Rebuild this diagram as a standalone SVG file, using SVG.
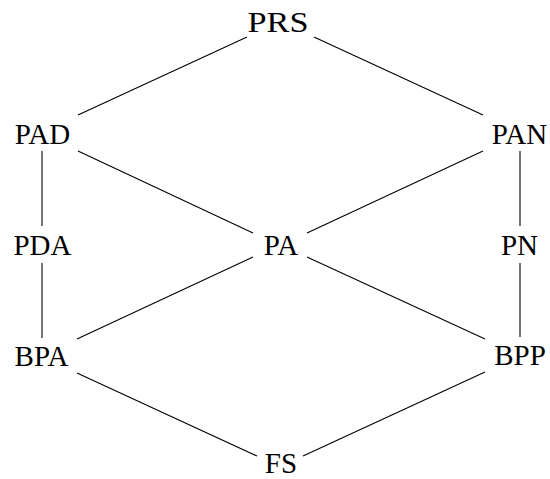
<svg xmlns="http://www.w3.org/2000/svg" width="550" height="479" viewBox="0 0 550 479">
<style>
text{font-family:"Liberation Serif","DejaVu Serif",serif;font-size:29px;fill:#000;text-anchor:middle}
.e line{stroke:#000;stroke-width:1.1}
</style>
<rect width="550" height="479" fill="#fff"/>
<g class="e" id="connectors">
<line x1="247" y1="37" x2="78" y2="115"/>
<line x1="314" y1="37" x2="483" y2="115"/>
<line x1="42" y1="151" x2="42" y2="226"/>
<line x1="42" y1="263" x2="42" y2="338"/>
<line x1="520" y1="151" x2="520" y2="226"/>
<line x1="520" y1="263" x2="520" y2="337"/>
<line x1="78" y1="151" x2="253" y2="233"/>
<line x1="483" y1="151" x2="307" y2="233"/>
<line x1="253" y1="257" x2="77" y2="339"/>
<line x1="307" y1="257" x2="485" y2="339"/>
<line x1="77" y1="373" x2="257" y2="456"/>
<line x1="485" y1="372" x2="303" y2="456"/>
</g>
<g id="PRS"><text x="278" y="32" textLength="61" lengthAdjust="spacingAndGlyphs">PRS</text></g>
<g id="PAD"><text x="42.5" y="144">PAD</text></g>
<g id="PAN"><text x="519.5" y="144">PAN</text></g>
<g id="PDA"><text x="42.5" y="255">PDA</text></g>
<g id="PA"><text x="281" y="255">PA</text></g>
<g id="PN"><text x="519.5" y="255">PN</text></g>
<g id="BPA"><text x="41.5" y="366">BPA</text></g>
<g id="BPP"><text x="520" y="365">BPP</text></g>
<g id="FS"><text x="281" y="473">FS</text></g>
</svg>
